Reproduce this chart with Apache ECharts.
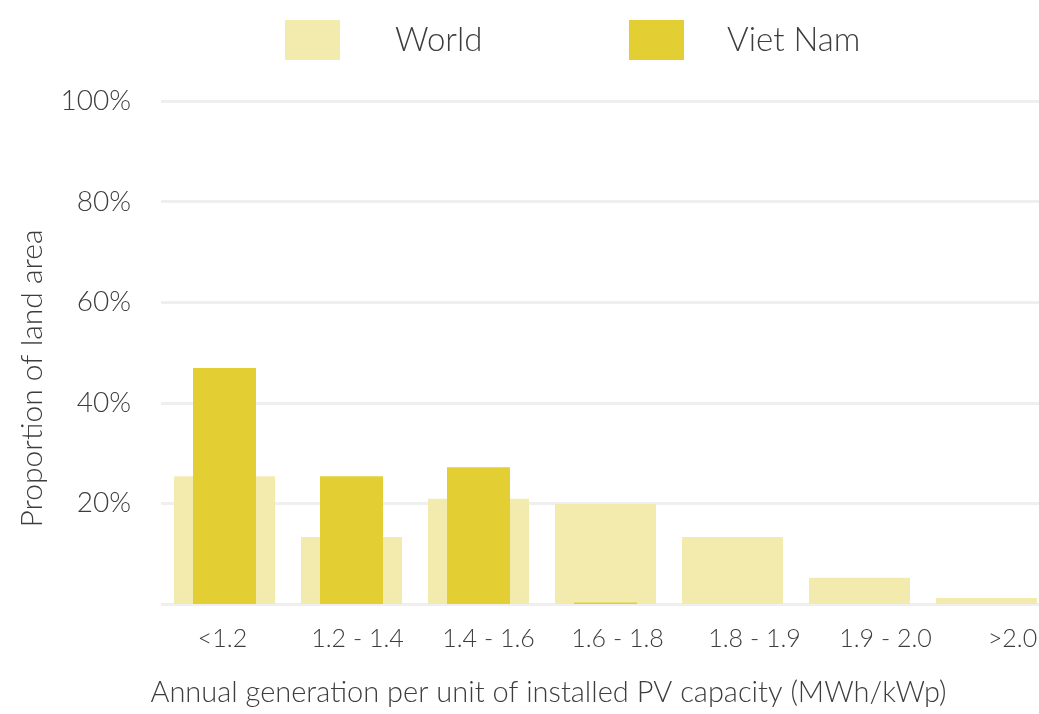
<!DOCTYPE html>
<html>
<head>
<meta charset="utf-8">
<script src="https://cdn.jsdelivr.net/npm/echarts@6/dist/echarts.min.js"></script>
<style>
  html, body { margin: 0; padding: 0; background: #fff; }
  #chart { width: 1039px; height: 714px; }
</style>
</head>
<body>
<div id="chart"></div>
<script>
const categories = ['<1.2', '1.2 - 1.4', '1.4 - 1.6', '1.6 - 1.8', '1.8 - 1.9', '1.9 - 2.0', '>2.0']
const worldValues = [25.4, 13.3, 20.9, 19.9, 13.3, 5.2, 1.2]
const vietNamValues = [46.9, 25.4, 27.2, 0.3, 0, 0, 0]
const yTicks = [0, 20, 40, 60, 80, 100]

const FONT = 'Lato'
const TEXT = '#3d3d3d'
// small nudges so the tick labels sit where the original put them
const labelShift = [-2, 6, 10, 12, 22, 26, 26]
const rich = {}
labelShift.forEach((s, i) => {
  rich['s' + i] = {
    fontFamily: FONT, fontWeight: 300, fontSize: 25, color: TEXT,
    padding: s >= 0 ? [0, 0, 0, 2 * s] : [0, -2 * s, 0, 0]
  }
})

function legendAt(left, name, gap) {
  return {
    left: left,
    top: 20,
    padding: 0,
    itemWidth: 55,
    itemHeight: 40,
    icon: 'rect',
    selectedMode: false,
    data: [name],
    textStyle: { fontFamily: FONT, fontWeight: 300, fontSize: 33, color: TEXT, padding: [0, 0, 0, gap] }
  }
}

const option = {
  animation: false,
  backgroundColor: '#fff',
  legend: [
    legendAt(285, 'World', 50),
    legendAt(629, 'Viet Nam', 38)
  ],
  grid: { left: 161, right: -11, top: 101, bottom: 110, containLabel: false, outerBoundsMode: 'none' },
  xAxis: [
    {
      type: 'category',
      data: categories,
      axisLine: { show: false },
      axisTick: { show: false },
      axisLabel: {
        margin: 22,
        formatter: (v, i) => '{s' + i + '|' + v + '}',
        rich: rich
      },
      name: 'Annual generation per unit of installed PV capacity (MWh/kWp)',
      nameLocation: 'middle',
      nameGap: 74,
      nameTextStyle: { fontFamily: FONT, fontWeight: 300, fontSize: 29, color: TEXT, padding: [0, 114, 0, 0] }
    },
    {
      type: 'category',
      data: categories,
      show: false
    }
  ],
  yAxis: {
    type: 'value',
    min: yTicks[0],
    max: yTicks[yTicks.length - 1],
    interval: 20,
    axisLine: { show: false },
    axisTick: { show: false },
    splitLine: { lineStyle: { color: '#efefef', width: 3 } },
    axisLabel: {
      margin: 30,
      fontFamily: FONT, fontWeight: 300, fontSize: 28, color: TEXT,
      formatter: v => (v === 0 ? '' : v + '%')
    },
    name: 'Proportion of land area',
    nameLocation: 'middle',
    nameGap: 114,
    nameTextStyle: { fontFamily: FONT, fontWeight: 300, fontSize: 30, color: TEXT, padding: [0, 52, 0, 0] }
  },
  series: [
    {
      name: 'World',
      type: 'bar',
      xAxisIndex: 0,
      barWidth: 101,
      data: worldValues,
      itemStyle: { color: '#f3ebae' }
    },
    {
      name: 'Viet Nam',
      type: 'bar',
      xAxisIndex: 1,
      barWidth: 63,
      data: vietNamValues,
      itemStyle: { color: '#e3cf33' }
    }
  ]
}

const chart = echarts.init(document.getElementById('chart'))
chart.setOption(option)
window.addEventListener('resize', chart.resize)
</script>
</body>
</html>
